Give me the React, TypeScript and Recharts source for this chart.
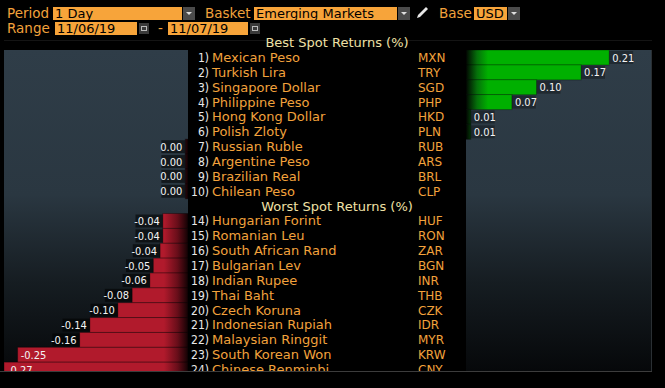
import React from 'react';
import { BarChart, Bar, XAxis, YAxis } from 'recharts';

// ---- data ----
const bestNums = [1, 2, 3, 4, 5, 6, 7, 8, 9, 10];
const bestNames = ['Mexican Peso', 'Turkish Lira', 'Singapore Dollar', 'Philippine Peso', 'Hong Kong Dollar', 'Polish Zloty', 'Russian Ruble', 'Argentine Peso', 'Brazilian Real', 'Chilean Peso'];
const bestCodes = ['MXN', 'TRY', 'SGD', 'PHP', 'HKD', 'PLN', 'RUB', 'ARS', 'BRL', 'CLP'];
const bestReturns = [0.209, 0.168, 0.103, 0.067, 0.007, 0.007, -0.004, -0.004, -0.004, -0.004];

const worstNums = [14, 15, 16, 17, 18, 19, 20, 21, 22, 23, 24];
const worstNames = ['Hungarian Forint', 'Romanian Leu', 'South African Rand', 'Bulgarian Lev', 'Indian Rupee', 'Thai Baht', 'Czech Koruna', 'Indonesian Rupiah', 'Malaysian Ringgit', 'South Korean Won', 'Chinese Renminbi'];
const worstCodes = ['HUF', 'RON', 'ZAR', 'BGN', 'INR', 'THB', 'CZK', 'IDR', 'MYR', 'KRW', 'CNY'];
const worstReturns = [-0.037, -0.037, -0.041, -0.051, -0.056, -0.082, -0.103, -0.144, -0.159, -0.25, -0.27];

const bestTitle = 'Best Spot Returns (%)';
const worstTitle = 'Worst Spot Returns (%)';
const scaleMax = 0.27;

// ---- look ----
const ORANGE = '#f2a23c';
const FIELD = '#f7a43a';
const CREAM = '#efe0a6';
const NUM_FONT = "'Liberation Sans Narrow', 'DejaVu Sans Condensed', 'Liberation Sans', sans-serif";
const TXT_FONT = "'DejaVu Sans', Verdana, sans-serif";

const PANEL_L = 4;
const PANEL_R = 188; // zero line of the left panel
const RIGHT_X = 466; // zero line of the right panel
const TOP = 50;
const VISIBLE_H = 321;
const CHART_H = 327;

type Row = { key: string; num?: number; name?: string; code?: string; heading?: string; neg: number | null; pos: number | null };

const mkRow = (num: number, name: string, code: string, v: number): Row => ({
    key: code, num, name, code,
    neg: v <= 0 ? v : null,
    pos: v > 0 ? v : null,
});

const rows: Row[] = [
    ...bestNames.map((n, i) => mkRow(bestNums[i], n, bestCodes[i], bestReturns[i])),
    { key: 'worst-title', heading: worstTitle, neg: null, pos: null },
    ...worstNames.map((n, i) => mkRow(worstNums[i], n, worstCodes[i], worstReturns[i])),
];
const rowByKey: Record<string, Row> = Object.fromEntries(rows.map(r => [r.key, r]));

const fmt = (v: number) => {
    const s = v.toFixed(2);
    return s === '-0.00' ? '0.00' : s;
};
const textW = (s: string) => s.split('').reduce((a, c) => a + (c === '.' ? 2.6 : c === '-' ? 3.4 : 5.1), 0);

const NegShape = (p: any) => {
    const v = p.payload?.neg;
    if (v == null) return <g />;
    const left = Math.min(p.x, p.x + p.width);
    const w = Math.abs(p.width);
    const label = fmt(v);
    const tw = textW(label);
    const cy = p.y + p.height / 2;
    const inside = left - tw - 6 < PANEL_L;
    return (
        <g>
            <rect x={left} y={p.y} width={w} height={p.height} fill="url(#redFade)" stroke="rgba(0,0,0,0.35)" strokeWidth={1} />
            {inside ? (
                <text x={left + 3} y={cy + 4} fill="#f4f4f4" fontSize={11} fontFamily={NUM_FONT}>{label}</text>
            ) : (
                <g>
                    <rect x={left - tw - 6} y={p.y + 1} width={tw + 6} height={p.height - 2} fill="rgba(0,0,0,0.55)" />
                    <text x={left - 3} y={cy + 4} textAnchor="end" fill="#f4f4f4" fontSize={11} fontFamily={NUM_FONT}>{label}</text>
                </g>
            )}
        </g>
    );
};

const PosShape = (p: any) => {
    const v = p.payload?.pos;
    if (v == null) return <g />;
    const left = Math.min(p.x, p.x + p.width);
    const w = Math.abs(p.width);
    const label = fmt(v);
    const tw = textW(label);
    const cy = p.y + p.height / 2;
    return (
        <g>
            <rect x={left} y={p.y} width={w} height={p.height} fill="url(#greenFade)" stroke="rgba(0,0,0,0.3)" strokeWidth={1} />
            <rect x={left + w} y={p.y + 1} width={tw + 6} height={p.height - 2} fill="rgba(0,0,0,0.3)" />
            <text x={left + w + 3} y={cy + 4} fill="#f4f4f4" fontSize={11} fontFamily={NUM_FONT}>{label}</text>
        </g>
    );
};

const NameTick = (p: any) => {
    const r = rowByKey[p.payload?.value];
    if (!r) return <g />;
    const y = p.y;
    if (r.heading) {
        return (
            <text x={337} y={y + 4.5} textAnchor="middle" fill={CREAM} fontSize={13} fontFamily={TXT_FONT}>{r.heading}</text>
        );
    }
    return (
        <g>
            <text x={209} y={y + 4.5} textAnchor="end" fill="#e8e8e8" fontSize={12} fontFamily={NUM_FONT}>{r.num})</text>
            <text x={212} y={y + 4.5} fill={ORANGE} fontSize={13} fontFamily={TXT_FONT}>{r.name}</text>
            <text x={418} y={y + 4.5} fill={ORANGE} fontSize={12} fontFamily={TXT_FONT}>{r.code}</text>
        </g>
    );
};

const Arrow = ({ x, y }: { x: number; y: number }) => (
    <div style={{ position: 'absolute', left: x, top: y, width: 12, height: 13, background: '#4b4b4b' }}>
        <div style={{ position: 'absolute', left: 3, top: 5, width: 0, height: 0, borderLeft: '3px solid transparent', borderRight: '3px solid transparent', borderTop: '3px solid #ddd' }} />
    </div>
);

const Cal = ({ x, y }: { x: number; y: number }) => (
    <div style={{ position: 'absolute', left: x, top: y, width: 10, height: 11, background: '#3a3a3a' }}>
        <div style={{ position: 'absolute', left: 2, top: 3, width: 6, height: 5, border: '1px solid #bbb', boxSizing: 'border-box' }} />
    </div>
);

const Lbl = ({ x, y, children }: { x: number; y: number; children: React.ReactNode }) => (
    <div style={{ position: 'absolute', left: x, top: y, color: ORANGE, fontSize: 13.5, fontFamily: TXT_FONT, lineHeight: '15px', whiteSpace: 'nowrap' }}>{children}</div>
);

const Field = ({ x, y, w, text }: { x: number; y: number; w: number; text: string }) => (
    <div style={{ position: 'absolute', left: x, top: y, width: w, height: 13, background: FIELD }}>
        <div style={{ position: 'absolute', left: 2, top: -1, color: '#000', fontSize: 13, fontFamily: TXT_FONT, lineHeight: '15px', whiteSpace: 'nowrap' }}>{text}</div>
    </div>
);

const panelBg = 'linear-gradient(to bottom, #2f3d48 0%, #2a3741 45%, #161d22 72%, #06080a 100%)';

export default function App() {
    return (
        <div style={{ position: 'absolute', left: 0, top: 0, width: 665, height: 388, background: '#000', overflow: 'hidden' }}>
            <svg width={0} height={0} style={{ position: 'absolute' }}>
                <defs>
                    <linearGradient id="redFade" gradientUnits="userSpaceOnUse" x1={PANEL_R - 24} y1={0} x2={PANEL_R} y2={0}>
                        <stop offset="0%" stopColor="#b11a2c" />
                        <stop offset="55%" stopColor="#6a0e1a" />
                        <stop offset="100%" stopColor="#120204" />
                    </linearGradient>
                    <linearGradient id="greenFade" gradientUnits="userSpaceOnUse" x1={0} y1={0} x2={22} y2={0}>
                        <stop offset="0%" stopColor="#020602" />
                        <stop offset="50%" stopColor="#05700a" />
                        <stop offset="100%" stopColor="#00b000" />
                    </linearGradient>
                </defs>
            </svg>

            {/* header controls */}
            <Lbl x={7} y={6}>Period</Lbl>
            <Field x={53} y={7} w={129} text="1 Day" />
            <Arrow x={183} y={7} />
            <Lbl x={205} y={6}>Basket</Lbl>
            <Field x={254} y={7} w={143} text="Emerging Markets" />
            <Arrow x={398} y={7} />
            <svg width={16} height={16} style={{ position: 'absolute', left: 414, top: 5 }}>
                <path d="M3 13 L4 10 L12 2 L14 4 L6 12 Z" fill="#e6e6e6" />
            </svg>
            <Lbl x={439} y={6}>Base</Lbl>
            <Field x={474} y={7} w={33} text="USD" />
            <Arrow x={508} y={7} />

            <Lbl x={7} y={21}>Range</Lbl>
            <Field x={55} y={22} w={82} text="11/06/19" />
            <Cal x={139} y={23} />
            <div style={{ position: 'absolute', left: 158, top: 21, color: ORANGE, fontSize: 13.5, fontFamily: TXT_FONT, lineHeight: '15px' }}>-</div>
            <Field x={168} y={22} w={80} text="11/07/19" />
            <Cal x={250} y={23} />
            <div style={{ position: 'absolute', left: 4, top: 40, width: 648, height: 1, background: '#141414' }} />

            <div style={{ position: 'absolute', left: 0, top: 36, width: 674, textAlign: 'center', color: CREAM, fontSize: 13, fontFamily: TXT_FONT, lineHeight: '14px' }}>{bestTitle}</div>

            {/* table body */}
            <div style={{ position: 'absolute', left: 0, top: TOP, width: 665, height: VISIBLE_H, overflow: 'hidden' }}>
                <div style={{ position: 'absolute', left: PANEL_L, top: 0, width: PANEL_R - PANEL_L, height: VISIBLE_H, background: panelBg }} />
                <div style={{ position: 'absolute', left: RIGHT_X, top: 0, width: 185, height: VISIBLE_H, background: panelBg, borderRight: '1px solid #2a2f33' }} />

                <div style={{ position: 'absolute', left: 0, top: 0 }}>
                    <BarChart width={RIGHT_X} height={CHART_H} data={rows} layout="vertical" margin={{ top: 0, right: 0, bottom: 0, left: PANEL_L }} barCategoryGap={0}>
                        <XAxis type="number" domain={[-scaleMax, 0]} hide allowDataOverflow />
                        <YAxis type="category" dataKey="key" orientation="right" width={RIGHT_X - PANEL_R} axisLine={false} tickLine={false} tick={<NameTick />} interval={0} />
                        <Bar dataKey="neg" shape={<NegShape />} isAnimationActive={false} />
                    </BarChart>
                </div>
                <div style={{ position: 'absolute', left: RIGHT_X, top: 0 }}>
                    <BarChart width={665 - RIGHT_X} height={CHART_H} data={rows} layout="vertical" margin={{ top: 0, right: 14, bottom: 0, left: 0 }} barCategoryGap={0}>
                        <XAxis type="number" domain={[0, scaleMax]} hide allowDataOverflow />
                        <YAxis type="category" dataKey="key" hide />
                        <Bar dataKey="pos" shape={<PosShape />} isAnimationActive={false} />
                    </BarChart>
                </div>
            </div>
            <div style={{ position: 'absolute', left: 0, top: TOP + VISIBLE_H, width: 652, height: 1, background: '#3c3c3c' }} />
        </div>
    );
}
